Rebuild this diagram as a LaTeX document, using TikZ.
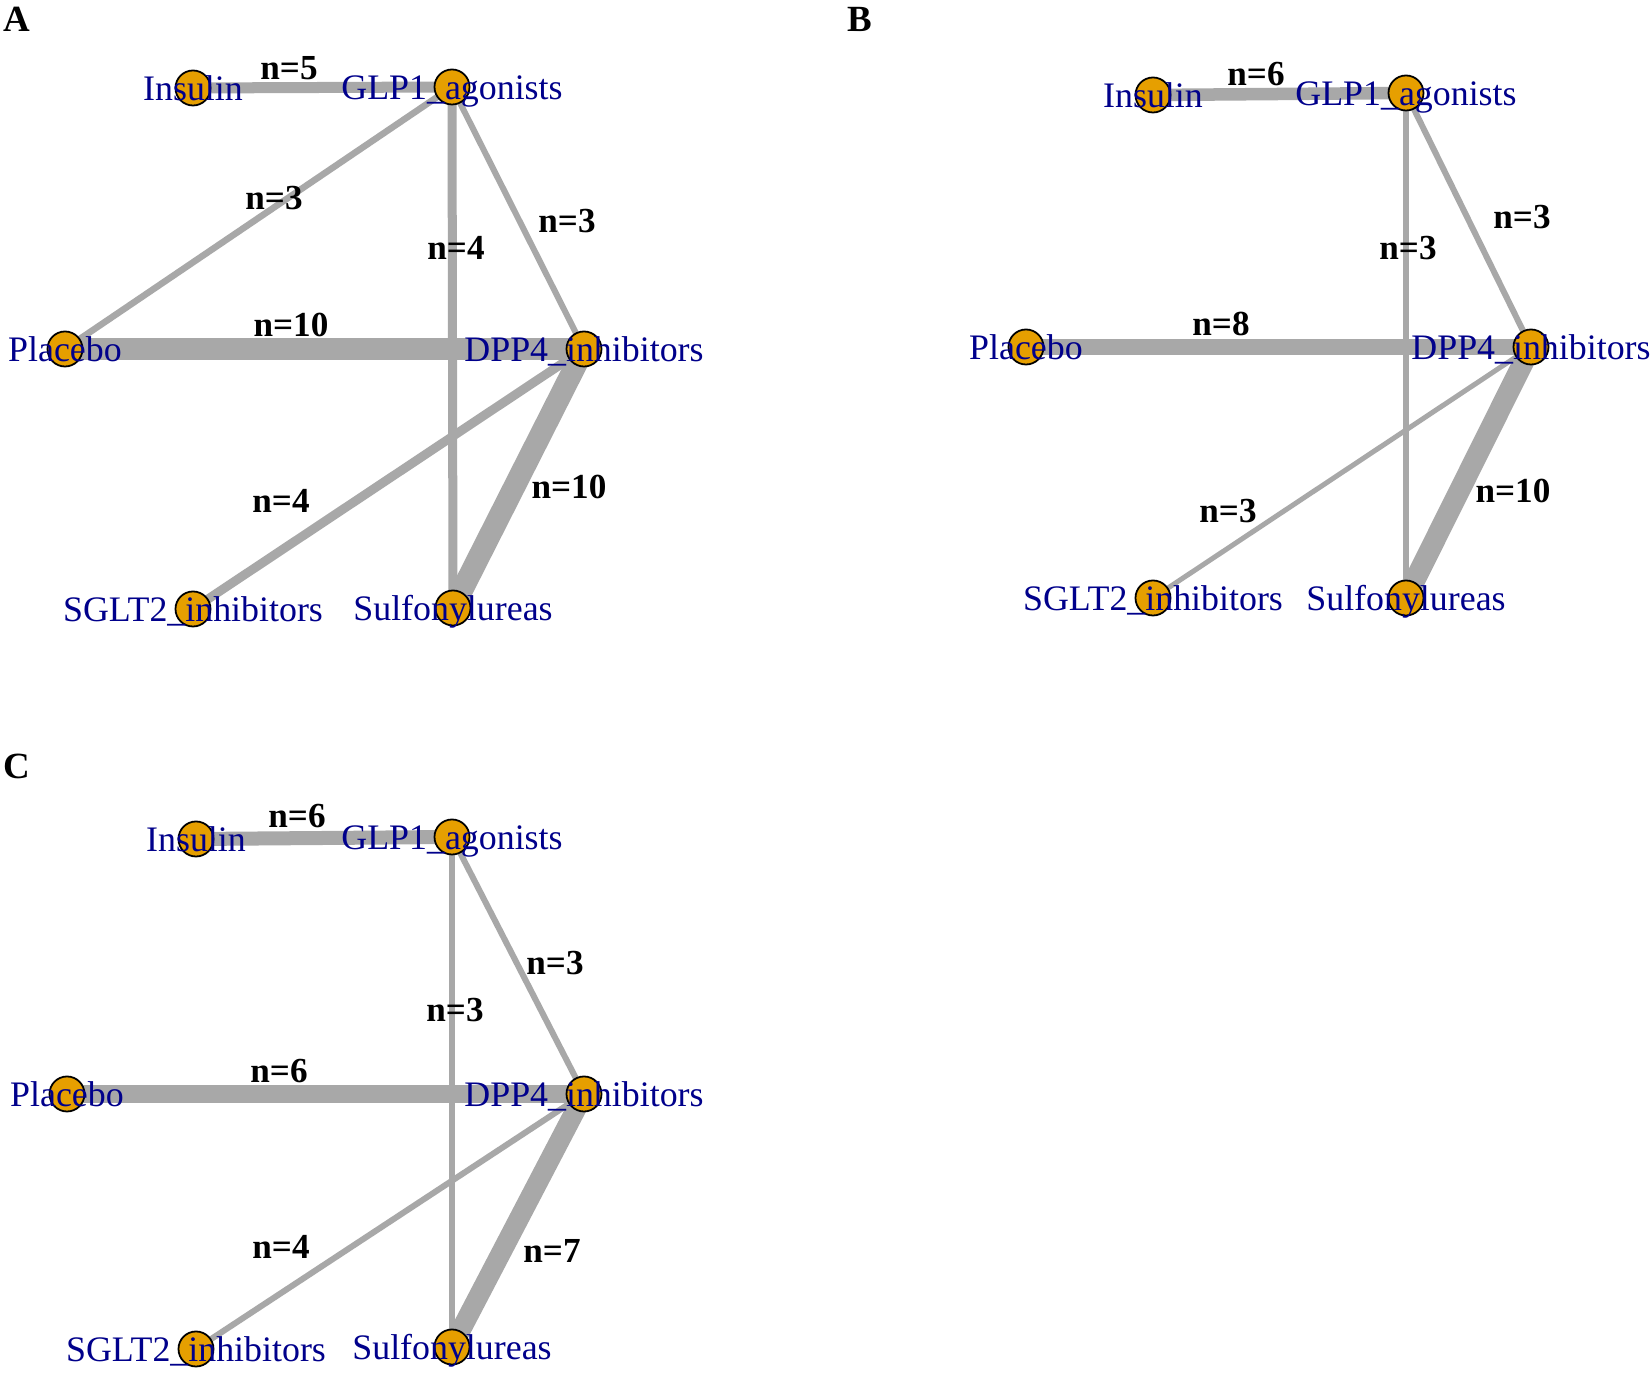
\documentclass[tikz,border=0pt]{standalone}
\usepackage{fontspec}
\setmainfont{Liberation Serif}
\usetikzlibrary{backgrounds}
\definecolor{trtorange}{HTML}{E69F00}
\definecolor{trtblue}{HTML}{00008B}
\definecolor{edgegray}{HTML}{A8A8A8}
\tikzset{
  trt/.style={circle,draw=black,line width=0.5pt,fill=trtorange,
    minimum size=0.35cm,inner sep=0pt,label={[trtlabel]center:#1}},
  trtlabel/.style={text=trtblue,font=\fontsize{10.2}{12}\selectfont,
    text height=7pt,text depth=0pt,yshift=-0.2pt,inner sep=0pt},
  nlab/.style={font=\fontsize{10}{12}\selectfont\bfseries,inner sep=0pt},
  panel/.style={font=\fontsize{10.5}{12}\selectfont\bfseries,inner sep=0pt},
  wt/.style={draw=edgegray,line width=#1mm}
}
\begin{document}
\begin{tikzpicture}[x=0.01cm,y=-0.01cm]
  \begin{pgfonlayer}{background}
    \fill[white] (0,0) rectangle (1650,1374);
  \end{pgfonlayer}
  \useasboundingbox (0,0) rectangle (1650,1374);

  % panel A
  \node[panel] (A) at (17,19) {A};
  \draw
    (193,88) node[trt=Insulin] (a0){}
    (452,87) node[trt=GLP1\_agonists] (a1){}
    (65,349) node[trt=Placebo] (a2){}
    (584,349) node[trt=DPP4\_inhibitors] (a3){}
    (193,609) node[trt=SGLT2\_inhibitors] (a4){}
    (453,608) node[trt=Sulfonylureas] (a5){};
  \begin{pgfonlayer}{background}
    \draw[wt=1.1] (a0.center) to (a1.center);
    \draw[wt=0.65] (a1.center) to (a2.center);
    \draw[wt=0.9] (a1.center) to (a5.center);
    \draw[wt=0.6] (a1.center) to (a3.center);
    \draw[wt=2.2] (a2.center) to (a3.center);
    \draw[wt=0.9] (a4.center) to (a3.center);
    \draw[wt=2.2] (a3.center) to (a5.center);
  \end{pgfonlayer}
  \node[nlab] (a01) at (289,68) {n=5};
  \node[nlab] (a12) at (274,198) {n=3};
  \node[nlab] (a15) at (456,248) {n=4};
  \node[nlab] (a13) at (567,221) {n=3};
  \node[nlab] (a23) at (291,325) {n=10};
  \node[nlab] (a43) at (281,501) {n=4};
  \node[nlab] (a35) at (569,487) {n=10};

  % panel B
  \node[panel] (B) at (860,19) {B};
  \draw
    (1153,95) node[trt=Insulin] (b0){}
    (1406,93) node[trt=GLP1\_agonists] (b1){}
    (1026,347) node[trt=Placebo] (b2){}
    (1531,347) node[trt=DPP4\_inhibitors] (b3){}
    (1153,598) node[trt=SGLT2\_inhibitors] (b4){}
    (1406,598) node[trt=Sulfonylureas] (b5){};
  \begin{pgfonlayer}{background}
    \draw[wt=1.25] (b0.center) to (b1.center);
    \draw[wt=0.6] (b1.center) to (b5.center);
    \draw[wt=0.6] (b1.center) to (b3.center);
    \draw[wt=1.6] (b2.center) to (b3.center);
    \draw[wt=0.5] (b4.center) to (b3.center);
    \draw[wt=2.1] (b3.center) to (b5.center);
  \end{pgfonlayer}
  \node[nlab] (b01) at (1256,74) {n=6};
  \node[nlab] (b15) at (1408,248) {n=3};
  \node[nlab] (b13) at (1522,217) {n=3};
  \node[nlab] (b23) at (1221,324) {n=8};
  \node[nlab] (b43) at (1228,511) {n=3};
  \node[nlab] (b35) at (1513,491) {n=10};

  % panel C
  \node[panel] (C) at (17,766) {C};
  \draw
    (196,839) node[trt=Insulin] (c0){}
    (452,837) node[trt=GLP1\_agonists] (c1){}
    (67,1094) node[trt=Placebo] (c2){}
    (584,1094) node[trt=DPP4\_inhibitors] (c3){}
    (196,1349) node[trt=SGLT2\_inhibitors] (c4){}
    (452,1347) node[trt=Sulfonylureas] (c5){};
  \begin{pgfonlayer}{background}
    \draw[wt=1.4] (c0.center) to (c1.center);
    \draw[wt=0.55] (c1.center) to (c5.center);
    \draw[wt=0.6] (c1.center) to (c3.center);
    \draw[wt=1.75] (c2.center) to (c3.center);
    \draw[wt=0.6] (c4.center) to (c3.center);
    \draw[wt=2.0] (c3.center) to (c5.center);
  \end{pgfonlayer}
  \node[nlab] (c01) at (297,816) {n=6};
  \node[nlab] (c13) at (555,963) {n=3};
  \node[nlab] (c15) at (455,1010) {n=3};
  \node[nlab] (c23) at (279,1071) {n=6};
  \node[nlab] (c43) at (281,1247) {n=4};
  \node[nlab] (c35) at (552,1251) {n=7};
\end{tikzpicture}
\end{document}
